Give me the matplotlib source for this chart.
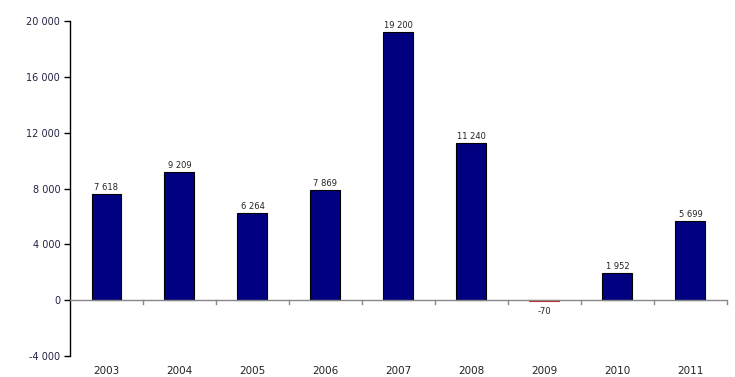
import matplotlib
matplotlib.use('Agg')
import matplotlib.pyplot as plt

years = ['2003', '2004', '2005', '2006', '2007', '2008', '2009', '2010', '2011']
values = [7618, 9209, 6264, 7869, 19200, 11240, -70, 1952, 5699]
yticks = [-4000, 0, 4000, 8000, 12000, 16000, 20000]


def fmt(v):
    return '{:,}'.format(v).replace(',', ' ')


fig = plt.figure(figsize=(7.35, 3.77), dpi=100)
ax = fig.add_axes([0.0952, 0.0557, 0.8938, 0.8883])

x = range(len(years))
bars = ax.bar(x, values, width=0.41, color='#000080', edgecolor='black', linewidth=0.8, zorder=3)
bars[6].set_edgecolor('#cc2222')

for i, v in enumerate(values):
    if v >= 0:
        ax.text(i, v + 150, fmt(v), ha='center', va='bottom', fontsize=6, color='#222222')
    else:
        ax.text(i, v - 450, fmt(v), ha='center', va='top', fontsize=6, color='#222222')

ax.set_xlim(-0.5, len(years) - 0.5)
ax.set_ylim(-4000, 20000)
ax.set_yticks(yticks)
ax.set_yticklabels([fmt(t) for t in yticks], fontsize=7, color='#222244')
ax.tick_params(axis='y', direction='out', length=4, width=1, color='black', pad=3)

# x axis drawn at zero with category separators
ax.axhline(0, color='#888888', linewidth=1, zorder=4)
ax.set_xticks([])
for b in [i + 0.5 for i in x]:
    ax.plot([b, b], [0, -300], color='#888888', linewidth=1, zorder=4, clip_on=False)
for i, y in enumerate(years):
    ax.text(i, -4700, y, ha='center', va='top', fontsize=7.5, color='#222222')

for s in ['top', 'right', 'bottom']:
    ax.spines[s].set_visible(False)
ax.spines['left'].set_linewidth(1)

fig.savefig('out.png', dpi=100)
